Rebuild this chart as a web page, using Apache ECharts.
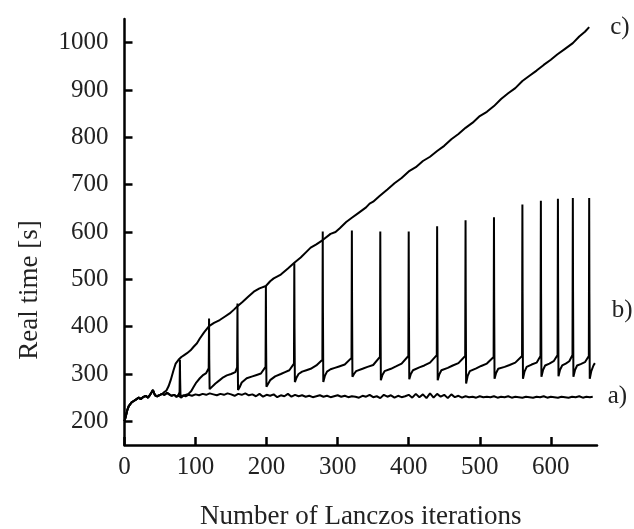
<!DOCTYPE html>
<html>
<head>
<meta charset="utf-8"/>
<title>Real time vs Lanczos iterations</title>
<script src="https://cdn.jsdelivr.net/npm/echarts@6/dist/echarts.min.js"></script>
<style>
html,body{margin:0;padding:0;background:#fff}
#main{width:634px;height:529px}
</style>
</head>
<body>
<div id="main"></div>
<script>
// tick labels
var xTicks = [0, 100, 200, 300, 400, 500, 600];
var yTicks = [200, 300, 400, 500, 600, 700, 800, 900, 1000];

// shared start of all three runs
var startX = [0, 2, 4, 6, 8, 10, 13, 16, 20, 23, 26, 30, 33, 36, 38, 40, 43, 46, 50];
var startY = [200, 212, 224, 232, 236, 240, 243, 246, 250, 247, 251, 254, 250, 256, 261, 266, 255, 253, 256];

// a) flat run
var aX = [53, 56, 60, 63, 66, 70, 73, 76, 80, 83, 86, 90, 95, 100, 105, 110, 115, 120, 125, 130, 135, 140, 145, 150,
  155, 160, 165, 170, 175, 180, 185, 190, 195, 200, 205, 210, 215, 220, 225, 230, 235, 240, 245, 250, 255, 260,
  265, 270, 275, 280, 285, 290, 295, 300, 305, 310, 315, 320, 325, 330, 335, 340, 345, 350, 355, 360, 365, 370,
  375, 380, 385, 390, 395, 400, 405, 410, 415, 420, 425, 430, 435, 440, 445, 450, 455, 460, 465, 470, 475, 480,
  485, 490, 495, 500, 505, 510, 515, 520, 525, 530, 535, 540, 545, 550, 555, 560, 565, 570, 575, 580, 585, 590,
  595, 600, 605, 610, 615, 620, 625, 630, 635, 640, 645, 650, 655, 659];
var aY = [258, 256, 260, 257, 254, 256, 252, 254, 250, 255, 253, 256, 254, 257, 255, 258, 256, 259, 257, 255, 258, 256, 259, 257,
  254, 258, 256, 259, 255, 257, 253, 258, 252, 256, 254, 257, 251, 255, 253, 258, 252, 256, 253, 255, 252, 254,
  251, 253, 255, 252, 254, 251, 253, 255, 252, 254, 251, 253, 252, 250, 254, 252, 256, 251, 253, 249, 256, 252,
  255, 250, 254, 251, 253, 256, 250, 258, 251, 257, 249, 259, 250, 258, 252, 256, 249, 257, 251, 254, 250, 253,
  251, 252, 250, 253, 251, 252, 251, 253, 250, 252, 251, 253, 250, 252, 251, 250, 252, 251, 250, 252, 251, 253,
  250, 252, 251, 250, 252, 251, 250, 252, 251, 253, 250, 252, 251, 252];

// b) run with periodic restarts (spikes)
var bX = [53, 56, 60, 63, 66, 70, 73, 76, 77.5, 78, 78.3, 78.8, 82, 86, 90, 94, 97, 101, 106, 110, 115, 118.5,
  119, 119.3, 119.8, 122, 128, 134, 139, 144, 150, 156, 158.5,
  159, 159.3, 159.8, 162, 165, 172, 180, 186, 192, 198.5,
  199, 199.3, 199.8, 202, 205, 212, 220, 226, 232, 238.5,
  239, 239.3, 239.8, 242, 245, 250, 256, 262, 270, 278.5,
  279, 279.3, 279.8, 282, 285, 290, 296, 302, 310, 319.5,
  320, 320.3, 320.8, 323, 326, 335, 342, 350, 359.5,
  360, 360.3, 360.8, 363, 366, 375, 382, 390, 399.5,
  400, 400.3, 400.8, 403, 406, 415, 422, 430, 439.5,
  440, 440.3, 440.8, 443, 446, 455, 462, 470, 479.5,
  480, 480.3, 480.8, 483, 486, 495, 502, 510, 519.5,
  520, 520.3, 520.8, 523, 526, 535, 542, 550, 559.5,
  560, 560.3, 560.8, 563, 566, 573, 580, 585.5,
  586, 586.3, 586.8, 589, 592, 598, 604, 609.5,
  610, 610.3, 610.8, 613, 616, 621, 626, 630.5,
  631, 631.3, 631.8, 634, 637, 642, 648, 653.5,
  654, 654.3, 654.8, 657, 660, 662];
var bY = [258, 256, 260, 257, 254, 256, 252, 256, 262, 330, 290, 254, 254, 256, 258, 264, 272, 282, 291, 297, 302, 312,
  417, 330, 268, 272, 280, 287, 293, 297, 300, 304, 314,
  449, 345, 266, 272, 282, 291, 295, 298, 301, 315,
  486, 365, 273, 279, 287, 295, 300, 304, 308, 322,
  534, 395, 283, 292, 300, 305, 308, 311, 318, 330,
  601, 430, 283, 296, 305, 310, 313, 316, 320, 334,
  603, 440, 294, 300, 306, 311, 315, 319, 336,
  601, 440, 287, 298, 306, 311, 316, 322, 338,
  601, 440, 289, 300, 308, 314, 318, 324, 340,
  612, 450, 287, 299, 308, 313, 318, 323, 338,
  625, 450, 280, 296, 306, 312, 317, 322, 336,
  631, 455, 290, 302, 311, 315, 319, 324, 338,
  658, 470, 290, 305, 315, 320, 324, 338,
  666, 470, 294, 308, 318, 322, 327, 340,
  670, 475, 295, 309, 318, 322, 327, 340,
  672, 475, 294, 308, 318, 321, 325, 338,
  672, 470, 290, 306, 318, 323];

// c) run with growing cost
var cX = [53, 56, 59, 62, 65, 69, 72, 76, 80, 84, 88, 93, 97, 102, 106, 112, 119, 126, 134, 141, 148, 154, 159,
  166, 174, 182, 190, 199, 205, 210, 220, 230, 239, 248, 256, 262, 270, 279, 290, 297, 303, 312, 320, 330, 340,
  345, 350, 359, 370, 380, 390, 400, 410, 420, 430, 440, 450, 460, 470, 480, 490, 500, 510, 520, 530, 540, 550,
  560, 570, 580, 585, 590, 600, 609, 620, 631, 640, 648, 654];
var cY = [258, 262, 265, 274, 287, 308, 322, 330, 336, 340, 344, 350, 357, 365, 375, 388, 401, 408, 414, 421, 428, 436, 443,
  452, 463, 474, 481, 486, 496, 502, 510, 523, 535, 546, 558, 567, 574, 583, 596, 600, 608, 621, 630, 641, 652,
  660, 664, 676, 690, 703, 714, 728, 737, 750, 759, 771, 782, 796, 807, 820, 831, 845, 854, 866, 881, 893, 904,
  919, 930, 941, 947, 953, 964, 975, 987, 999, 1013, 1023, 1033];

function pairs(xs, ys) {
  var out = [];
  for (var i = 0; i < startX.length; i++) out.push([startX[i], startY[i]]);
  for (var j = 0; j < xs.length; j++) out.push([xs[j], ys[j]]);
  return out;
}

var serif = '"Liberation Serif", "DejaVu Serif", serif';
var myChart = echarts.init(document.getElementById('main'));

function plain(v) {
  return String(v);
}

function lineSeries(name, data, dx, dy) {
  return {
    name: name,
    type: 'line',
    data: data,
    symbol: 'none',
    sampling: 'none',
    z: name == 'b)' ? 3 : 2,
    lineStyle: {color: '#000', width: 2},
    endLabel: {
      show: true,
      formatter: name,
      distance: 5,
      offset: [dx, dy],
      color: '#222',
      fontFamily: serif,
      fontSize: 25
    }
  };
}

var option = {
  animation: false,
  backgroundColor: '#fff',
  grid: {left: 124.5, right: 37, top: 19, bottom: 84, outerBoundsMode: 'none', containLabel: false},
  xAxis: {
    type: 'value',
    min: 0,
    max: 665,
    name: 'Number of Lanczos iterations',
    nameLocation: 'middle',
    nameGap: 58,
    nameTextStyle: {color: '#222', fontFamily: serif, fontSize: 27, verticalAlign: 'top'},
    axisLine: {lineStyle: {color: '#000', width: 2.5}},
    axisTick: {inside: true, length: 8, lineStyle: {color: '#000', width: 2.5}, customValues: xTicks},
    axisLabel: {color: '#222', fontFamily: serif, fontSize: 25, margin: 10, customValues: xTicks, formatter: plain},
    splitLine: {show: false}
  },
  yAxis: {
    type: 'value',
    min: 150,
    max: 1050,
    axisLine: {show: true, lineStyle: {color: '#000', width: 2.5}},
    axisTick: {show: true, inside: true, length: 8, lineStyle: {color: '#000', width: 2.5}, customValues: yTicks},
    axisLabel: {color: '#222', fontFamily: serif, fontSize: 25, margin: 16, customValues: yTicks, formatter: plain},
    splitLine: {show: false}
  },
  graphic: [{
    type: 'text',
    x: 30,
    y: 290,
    rotation: Math.PI / 2,
    style: {
      text: 'Real time [s]',
      fill: '#222',
      font: '27px ' + serif,
      textAlign: 'center',
      textVerticalAlign: 'middle'
    }
  }],
  series: [
    lineSeries('a)', pairs(aX, aY), 10, 0),
    lineSeries('b)', pairs(bX, bY), 12, -53),
    lineSeries('c)', pairs(cX, cY), 16, 0)
  ]
};

myChart.setOption(option);
</script>
</body>
</html>
